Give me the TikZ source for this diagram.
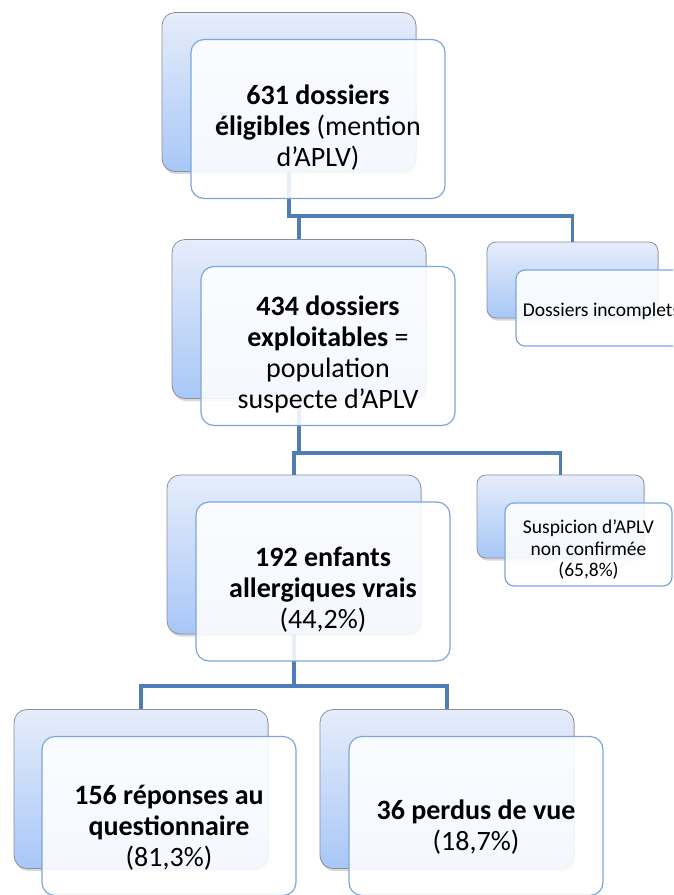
\documentclass[tikz,border=0pt]{standalone}
\usepackage{fontspec}
\setmainfont{Carlito}
\usetikzlibrary{shadows}

\definecolor{linkblue}{HTML}{4F7DB5}
\definecolor{backtop}{HTML}{E6EDFB}
\definecolor{backbot}{HTML}{A8C7F7}
\definecolor{backline}{HTML}{8C9098}
\definecolor{frontline}{HTML}{7DA7D9}

\newcommand{\toppad}[1]{\rule{0pt}{#1pt}}

\begin{document}
\begin{tikzpicture}[x=1pt,y=-1pt]
            \tikzstyle{edge}=[draw=linkblue,line width=3.6pt]
            \tikzstyle{backbox}=[rectangle,rounded corners=13pt,draw=backline,line width=0.8pt,top color=backtop,bottom color=backbot,drop shadow={shadow xshift=1pt,shadow yshift=-2.5pt,opacity=0.3},minimum width=254pt,minimum height=159pt,inner sep=0pt]
            \tikzstyle{frontbox}=[rectangle,rounded corners=13pt,draw=frontline,line width=1.2pt,fill=white,fill opacity=0.88,text opacity=1,minimum width=254pt,minimum height=159pt,inner sep=0pt,align=center,font=\fontsize{28}{31}\selectfont]
            \tikzstyle{smallback}=[backbox,rounded corners=9pt]
            \tikzstyle{smallfront}=[frontbox,rounded corners=9pt,font=\fontsize{19.5}{21.5}\selectfont]

            \def\dx{29}
            \def\dy{27}

            \fill[white] (0,0) rectangle (673,895);
            \clip (0,0) rectangle (673,895);

            \coordinate (j1) at (0,216);
            \coordinate (j2) at (0,453);
            \coordinate (j3) at (0,686);

            % back boxes
            \node[backbox] (b631) at (289,92) {};
            \node[backbox] (b434) at (299,319) {};
            \node[backbox] (b192) at (294,554.5) {};
            \node[backbox] (b156) at (141,789) {};
            \node[backbox] (b36)  at (447,789) {};
            \node[smallback,minimum width=171pt,minimum height=76pt] (binc) at (572.5,280) {};
            \node[smallback,minimum width=167pt,minimum height=83pt] (bsus) at (560.5,516.5) {};

            % connectors
            \path[edge] (b631.south) -- (b631.south |- j1) -| (b434.north);
            \path[edge] (b631.south |- j1) -| (binc.north);
            \path[edge] (b434.south) -- (b434.south |- j2) -| (b192.north);
            \path[edge] (b434.south |- j2) -| (bsus.north);
            \path[edge] (b192.south) -- (b192.south |- j3) -| (b156.north);
            \path[edge] (b192.south |- j3) -| (b36.north);

            % front boxes
            \node[frontbox] (f631) at ({289+\dx},{92+\dy}) {\toppad{37}\textbf{631 dossiers}\\\textbf{éligibles} (mention\\d’APLV)};
            \node[frontbox] (f434) at ({299+\dx},{319+\dy}) {\toppad{36}\textbf{434 dossiers}\\\textbf{exploitables} =\\population\\suspecte d’APLV};
            \node[frontbox] (f192) at ({294+\dx},{554.5+\dy}) {\toppad{36}\textbf{192 enfants}\\\textbf{allergiques vrais}\\(44,2\%)};
            \node[frontbox] (f156) at ({141+28},{789+\dy}) {\toppad{42}\textbf{156 réponses au}\\\textbf{questionnaire}\\(81,3\%)};
            \node[frontbox] (f36)  at ({447+\dx},{789+\dy}) {\toppad{42}\textbf{36 perdus de vue}\\(18,7\%)};
            \node[smallfront,minimum width=171pt,minimum height=76pt] (finc) at ({572.5+\dx},{280+28}) {\toppad{20}Dossiers incomplets};
            \node[smallfront,minimum width=167pt,minimum height=83pt] (fsus) at ({560.5+28},{516.5+28}) {\toppad{24}Suspicion d’APLV\\non confirmée\\(65,8\%)};
\end{tikzpicture}
\end{document}
